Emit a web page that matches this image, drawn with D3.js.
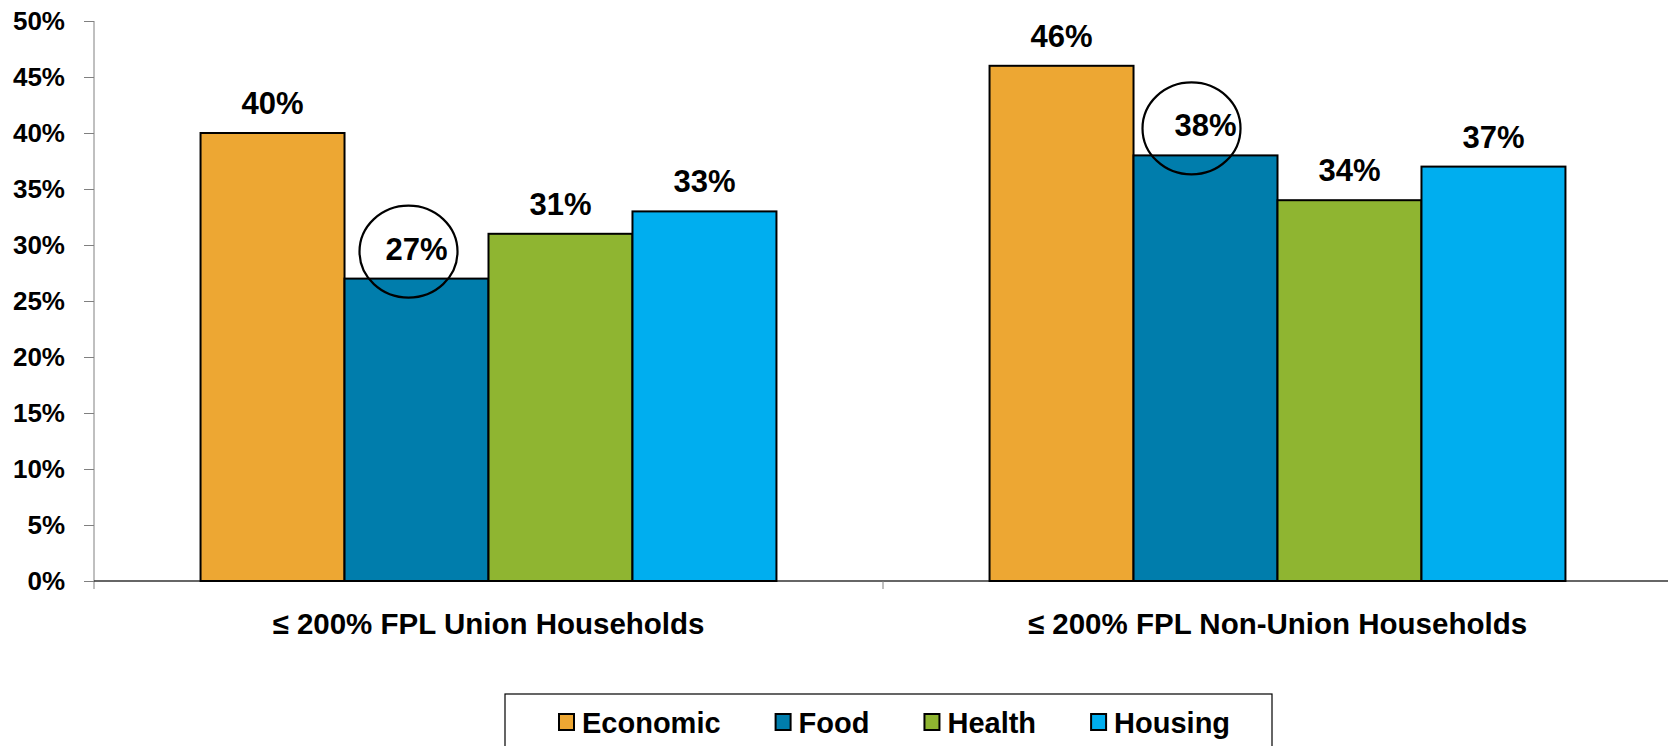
<!DOCTYPE html>
<html>
<head>
<meta charset="utf-8">
<script src="https://cdn.jsdelivr.net/npm/d3@7"></script>
<style>
  body { margin: 0; background: #fff; }
  svg { display: block; font-family: "Liberation Sans", Arial, sans-serif; font-weight: bold; }
</style>
</head>
<body>
<svg width="1668" height="746"></svg>
<script>
// Data
const groups = ["≤ 200% FPL Union Households", "≤ 200% FPL Non-Union Households"];
const series = ["Economic", "Food", "Health", "Housing"];
const unionValues = [40, 27, 31, 33];
const nonUnionValues = [46, 38, 34, 37];
const yTicks = [0, 5, 10, 15, 20, 25, 30, 35, 40, 45, 50];
const colors = ["#EDA733", "#007DAC", "#8FB531", "#00AEEF"];

// circled labels (group, series)
const highlights = [
  { group: groups[0], series: "Food", dx: -8 },
  { group: groups[1], series: "Food", dx: -14 }
];

const valuesByGroup = [unionValues, nonUnionValues];
const data = [];
groups.forEach((g, gi) => {
  series.forEach((s, si) => data.push({ group: g, series: s, value: valuesByGroup[gi][si] }));
});

const svg = d3.select("svg");
const margin = { top: 21, left: 94, bottom: 581 };

const x0 = d3.scaleBand().domain(groups).range([94, 1672]);
const x1 = d3.scaleBand().domain(series).range([0, x0.bandwidth()]).paddingInner(0).paddingOuter(0.74);
const y = d3.scaleLinear().domain([0, 50]).range([581, 21]);
const color = d3.scaleOrdinal().domain(series).range(colors);

// Y axis
const yAxis = svg.append("g")
  .attr("transform", `translate(${margin.left},0)`)
  .call(d3.axisLeft(y).tickValues(yTicks).tickFormat(d => d + "%").tickSize(10).tickPadding(19));
yAxis.select(".domain").attr("stroke", "#808080").attr("d", `M0,${y(50)}V${y(0) + 8}`);
yAxis.selectAll(".tick line").attr("stroke", "#808080");
yAxis.selectAll(".tick text")
  .attr("fill", "#000")
  .style("font-size", "26px")
  .style("font-family", '"Liberation Sans", Arial, sans-serif')
  .style("font-weight", "bold");

// X axis
const xAxis = svg.append("g");
xAxis.append("line")
  .attr("x1", margin.left).attr("x2", x0.range()[1])
  .attr("y1", y(0)).attr("y2", y(0))
  .attr("stroke", "#333").attr("stroke-width", 1.5);
xAxis.selectAll(".ctick")
  .data(groups.slice(1))
  .join("line")
  .attr("x1", d => x0(d)).attr("x2", d => x0(d))
  .attr("y1", y(0)).attr("y2", y(0) + 8)
  .attr("stroke", "#808080");
xAxis.selectAll(".clabel")
  .data(groups)
  .join("text")
  .attr("x", d => x0(d) + x0.bandwidth() / 2)
  .attr("y", 634)
  .attr("text-anchor", "middle")
  .style("font-size", "29.5px")
  .text(d => d);

// Bars
svg.append("g").selectAll("rect")
  .data(data)
  .join("rect")
  .attr("x", d => x0(d.group) + x1(d.series))
  .attr("y", d => y(d.value))
  .attr("width", x1.bandwidth())
  .attr("height", d => y(0) - y(d.value))
  .attr("fill", d => color(d.series))
  .attr("stroke", "#000")
  .attr("stroke-width", 2);

// Value labels
svg.append("g").selectAll("text")
  .data(data)
  .join("text")
  .attr("x", d => x0(d.group) + x1(d.series) + x1.bandwidth() / 2)
  .attr("y", d => y(d.value) - 19)
  .attr("text-anchor", "middle")
  .style("font-size", "31px")
  .text(d => d.value + "%");

// Highlight circles
svg.append("g").selectAll("ellipse")
  .data(highlights)
  .join("ellipse")
  .attr("cx", d => x0(d.group) + x1(d.series) + x1.bandwidth() / 2 + d.dx)
  .attr("cy", d => {
    const v = data.find(e => e.group === d.group && e.series === d.series).value;
    return y(v) - 27;
  })
  .attr("rx", 49)
  .attr("ry", 46)
  .attr("fill", "none")
  .attr("stroke", "#000")
  .attr("stroke-width", 2.2);

// Legend
const legend = svg.append("g");
legend.append("rect")
  .attr("x", 505).attr("y", 694)
  .attr("width", 767).attr("height", 80)
  .attr("fill", "#fff").attr("stroke", "#000").attr("stroke-width", 1.2);

let lx = 559;
series.forEach(s => {
  const item = legend.append("g").attr("transform", `translate(${lx},0)`);
  item.append("rect")
    .attr("x", 0).attr("y", 714)
    .attr("width", 15).attr("height", 16)
    .attr("fill", color(s)).attr("stroke", "#000").attr("stroke-width", 2);
  const t = item.append("text")
    .attr("x", 23).attr("y", 733)
    .style("font-size", "29px")
    .text(s);
  lx += 23 + t.node().getComputedTextLength() + 55;
});
</script>
</body>
</html>
